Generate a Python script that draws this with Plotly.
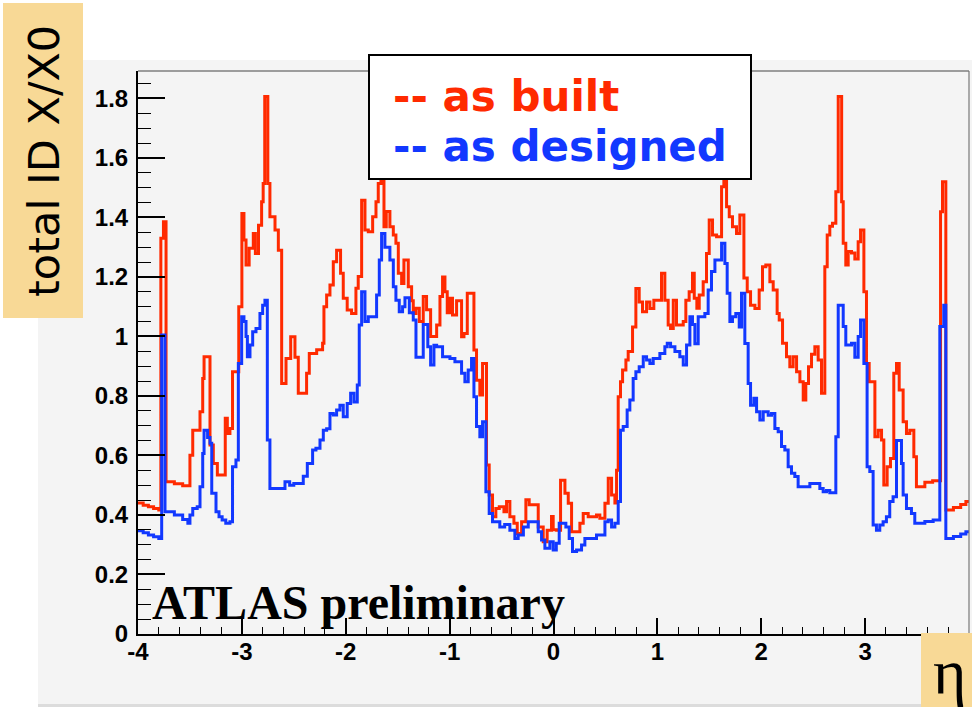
import plotly.graph_objects as go

# Step histograms: (bin low edge in eta, total ID material in X/X0)
as_built_steps = [
    (-4.00, 0.440), (-3.95, 0.433), (-3.90, 0.428), (-3.85, 0.422), (-3.80, 0.417),
    (-3.78, 1.330), (-3.755, 1.385), (-3.73, 0.512), (-3.65, 0.505), (-3.57, 0.498),
    (-3.50, 0.601), (-3.473, 0.685), (-3.403, 0.747), (-3.377, 0.859), (-3.364, 0.932),
    (-3.307, 0.635), (-3.275, 0.573), (-3.236, 0.534), (-3.16, 0.725), (-3.14, 0.674),
    (-3.115, 0.691), (-3.09, 0.881), (-3.03, 1.100), (-3.00, 1.413), (-2.98, 1.324),
    (-2.96, 1.240), (-2.93, 1.296), (-2.89, 1.346), (-2.87, 1.279), (-2.84, 1.374),
    (-2.81, 1.453), (-2.795, 1.514), (-2.78, 1.806), (-2.75, 1.514), (-2.73, 1.402),
    (-2.681, 1.358), (-2.649, 1.290), (-2.617, 0.842), (-2.575, 0.926), (-2.530, 0.999),
    (-2.489, 0.930), (-2.457, 0.809), (-2.377, 0.876), (-2.351, 0.943), (-2.28, 0.955),
    (-2.223, 0.977), (-2.21, 1.100), (-2.184, 1.139), (-2.152, 1.173), (-2.120, 1.251),
    (-2.088, 1.290), (-2.050, 1.212), (-2.024, 1.128), (-1.986, 1.089), (-1.944, 1.077),
    (-1.902, 1.162), (-1.880, 1.201), (-1.847, 1.458), (-1.815, 1.358), (-1.783, 1.352),
    (-1.741, 1.402), (-1.709, 1.453), (-1.687, 1.514), (-1.661, 1.545), (-1.632, 1.369),
    (-1.61, 1.420), (-1.575, 1.369), (-1.542, 1.341), (-1.517, 1.313), (-1.494, 1.212),
    (-1.462, 1.178), (-1.440, 1.257), (-1.398, 1.167), (-1.366, 1.120), (-1.350, 1.077),
    (-1.324, 1.095), (-1.292, 1.050), (-1.254, 1.134), (-1.222, 1.090), (-1.183, 1.000),
    (-1.125, 1.038), (-1.093, 1.134), (-1.068, 1.200), (-1.045, 1.150), (-1.023, 1.080),
    (-0.997, 1.128), (-0.972, 1.072), (-0.933, 1.120), (-0.885, 0.999), (-0.862, 1.010),
    (-0.830, 1.145), (-0.766, 0.954), (-0.741, 0.853), (-0.709, 0.803), (-0.683, 0.909),
    (-0.645, 0.568), (-0.619, 0.467), (-0.587, 0.394), (-0.555, 0.422), (-0.522, 0.428),
    (-0.477, 0.411), (-0.452, 0.445), (-0.420, 0.394), (-0.381, 0.372), (-0.349, 0.338),
    (-0.307, 0.377), (-0.266, 0.451), (-0.234, 0.434), (-0.147, 0.360), (-0.099, 0.310),
    (-0.061, 0.349), (-0.019, 0.395), (-0.003, 0.350), (0.030, 0.349), (0.068, 0.517),
    (0.110, 0.473), (0.142, 0.439), (0.174, 0.344), (0.254, 0.372), (0.286, 0.405),
    (0.334, 0.394), (0.414, 0.400), (0.446, 0.389), (0.495, 0.439), (0.527, 0.523),
    (0.559, 0.467), (0.591, 0.440), (0.607, 0.550), (0.623, 0.797), (0.645, 0.848),
    (0.665, 0.887), (0.697, 0.921), (0.719, 0.949), (0.761, 1.032), (0.793, 1.161),
    (0.825, 1.116), (0.857, 1.083), (0.896, 1.116), (0.928, 1.094), (0.966, 1.122),
    (1.040, 1.212), (1.072, 1.122), (1.104, 1.038), (1.127, 1.027), (1.153, 1.122),
    (1.184, 1.038), (1.249, 1.050), (1.274, 1.122), (1.306, 1.150), (1.338, 1.212),
    (1.355, 1.128), (1.380, 1.095), (1.403, 1.139), (1.441, 1.184), (1.473, 1.279),
    (1.499, 1.391), (1.531, 1.341), (1.570, 1.335), (1.618, 1.503), (1.640, 1.550),
    (1.666, 1.436), (1.692, 1.402), (1.723, 1.369), (1.762, 1.346), (1.794, 1.408),
    (1.833, 1.196), (1.865, 1.150), (1.897, 1.105), (1.939, 1.094), (1.980, 1.156),
    (2.012, 1.234), (2.044, 1.240), (2.083, 1.184), (2.115, 1.156), (2.153, 1.077),
    (2.173, 1.055), (2.205, 0.977), (2.243, 0.932), (2.275, 0.898), (2.307, 0.932),
    (2.340, 0.881), (2.372, 0.848), (2.404, 0.786), (2.429, 0.842), (2.455, 0.898),
    (2.484, 0.940), (2.516, 0.965), (2.548, 0.921), (2.580, 0.809), (2.612, 1.234),
    (2.635, 1.341), (2.660, 1.370), (2.686, 1.380), (2.718, 1.486), (2.741, 1.806),
    (2.774, 1.453), (2.789, 1.313), (2.814, 1.240), (2.837, 1.285), (2.869, 1.280),
    (2.901, 1.260), (2.933, 1.318), (2.956, 1.358), (2.988, 1.150), (3.013, 0.909),
    (3.039, 0.848), (3.094, 0.663), (3.126, 0.685), (3.158, 0.652), (3.180, 0.501),
    (3.212, 0.562), (3.244, 0.590), (3.276, 0.876), (3.302, 0.909), (3.328, 0.820),
    (3.366, 0.713), (3.398, 0.674), (3.430, 0.685), (3.469, 0.596), (3.494, 0.495),
    (3.575, 0.510), (3.650, 0.515), (3.726, 1.419), (3.745, 1.520), (3.777, 0.417),
    (3.850, 0.425), (3.920, 0.435), (3.970, 0.445),
]

as_designed_steps = [
    (-4.00, 0.347), (-3.95, 0.340), (-3.90, 0.333), (-3.85, 0.327), (-3.80, 0.321),
    (-3.772, 1.005), (-3.74, 0.411), (-3.65, 0.400), (-3.57, 0.385), (-3.52, 0.372),
    (-3.50, 0.400), (-3.473, 0.422), (-3.43, 0.428), (-3.403, 0.495), (-3.377, 0.607),
    (-3.364, 0.685), (-3.33, 0.660), (-3.307, 0.641), (-3.29, 0.473), (-3.249, 0.411),
    (-3.22, 0.394), (-3.19, 0.383), (-3.155, 0.372), (-3.115, 0.377), (-3.09, 0.562),
    (-3.057, 0.585), (-3.034, 0.909), (-3.002, 1.066), (-2.98, 1.050), (-2.96, 1.000),
    (-2.947, 0.932), (-2.922, 0.971), (-2.896, 1.016), (-2.864, 1.027), (-2.826, 1.077),
    (-2.80, 1.105), (-2.778, 1.122), (-2.755, 0.652), (-2.73, 0.489), (-2.585, 0.512),
    (-2.54, 0.500), (-2.50, 0.506), (-2.409, 0.530), (-2.370, 0.573), (-2.319, 0.618),
    (-2.287, 0.624), (-2.248, 0.652), (-2.216, 0.685), (-2.184, 0.690), (-2.152, 0.741),
    (-2.120, 0.736), (-2.088, 0.753), (-2.056, 0.769), (-2.024, 0.730), (-1.986, 0.775),
    (-1.953, 0.809), (-1.921, 0.780), (-1.889, 0.837), (-1.870, 1.038), (-1.847, 1.150),
    (-1.815, 1.050), (-1.783, 1.066), (-1.703, 1.139), (-1.677, 1.257), (-1.655, 1.346),
    (-1.623, 1.300), (-1.575, 1.257), (-1.542, 1.167), (-1.517, 1.122), (-1.485, 1.083),
    (-1.453, 1.100), (-1.430, 1.130), (-1.388, 1.080), (-1.350, 1.055), (-1.324, 0.930),
    (-1.254, 1.040), (-1.210, 0.965), (-1.183, 0.904), (-1.151, 0.970), (-1.125, 0.965),
    (-1.068, 0.932), (-0.997, 0.926), (-0.949, 0.915), (-0.885, 0.876), (-0.853, 0.848),
    (-0.821, 0.887), (-0.789, 0.926), (-0.766, 0.797), (-0.741, 0.697), (-0.709, 0.663),
    (-0.683, 0.713), (-0.651, 0.478), (-0.619, 0.405), (-0.587, 0.377), (-0.517, 0.360),
    (-0.470, 0.368), (-0.420, 0.349), (-0.372, 0.321), (-0.340, 0.333), (-0.290, 0.360),
    (-0.243, 0.377), (-0.147, 0.344), (-0.115, 0.316), (-0.083, 0.288), (-0.035, 0.310),
    (-0.003, 0.282), (0.027, 0.305), (0.055, 0.372), (0.119, 0.360), (0.151, 0.321),
    (0.183, 0.277), (0.222, 0.282), (0.270, 0.299), (0.302, 0.321), (0.414, 0.333),
    (0.495, 0.377), (0.527, 0.383), (0.559, 0.360), (0.591, 0.372), (0.623, 0.445),
    (0.645, 0.685), (0.671, 0.697), (0.709, 0.753), (0.735, 0.786), (0.767, 0.859),
    (0.793, 0.881), (0.825, 0.898), (0.864, 0.932), (0.896, 0.921), (0.928, 0.909),
    (0.960, 0.926), (1.024, 0.943), (1.072, 0.965), (1.095, 0.977), (1.127, 0.965),
    (1.169, 0.949), (1.216, 0.932), (1.249, 0.904), (1.281, 0.971), (1.313, 1.066),
    (1.338, 1.040), (1.361, 0.975), (1.393, 1.066), (1.457, 1.077), (1.489, 1.156),
    (1.521, 1.218), (1.554, 1.257), (1.618, 1.313), (1.650, 1.245), (1.672, 1.145),
    (1.698, 1.050), (1.723, 1.066), (1.755, 1.077), (1.788, 1.032), (1.810, 1.145),
    (1.842, 0.976), (1.874, 0.842), (1.897, 0.769), (1.929, 0.792), (1.955, 0.747),
    (1.987, 0.719), (2.019, 0.747), (2.067, 0.735), (2.099, 0.741), (2.131, 0.691),
    (2.163, 0.680), (2.195, 0.630), (2.227, 0.618), (2.259, 0.562), (2.291, 0.540),
    (2.323, 0.529), (2.355, 0.495), (2.468, 0.506), (2.564, 0.489), (2.596, 0.478),
    (2.628, 0.482), (2.660, 0.475), (2.718, 0.663), (2.741, 1.105), (2.789, 1.033),
    (2.814, 0.971), (2.869, 0.977), (2.901, 0.930), (2.933, 1.000), (2.956, 1.055),
    (2.988, 0.909), (3.019, 0.562), (3.045, 0.546), (3.077, 0.366), (3.109, 0.349),
    (3.141, 0.366), (3.173, 0.377), (3.205, 0.394), (3.237, 0.445), (3.269, 0.461),
    (3.302, 0.650), (3.350, 0.573), (3.366, 0.467), (3.398, 0.422), (3.446, 0.405),
    (3.478, 0.372), (3.575, 0.378), (3.655, 0.383), (3.719, 1.033), (3.757, 1.105),
    (3.777, 0.321), (3.850, 0.328), (3.920, 0.336), (3.970, 0.344),
]

eta_range = [-4.0, 4.0]
x0_range = [0.0, 1.892]
x_tick_values = [-4, -3, -2, -1, 0, 1, 2, 3]
x_tick_labels = ["-4", "-3", "-2", "-1", "0", "1", "2", "3"]
series_names = ["-- as built", "-- as designed"]
series_colors = ["#ff2a00", "#1238ff"]

W, H = 972, 707
L, R, T, B = 138, 3, 71, 73
PW, PH = W - L - R, H - T - B


def px(x):
    return (x - L) / PW


def py(y):
    return (H - B - y) / PH


def step_xy(steps):
    eta = [s[0] for s in steps] + [eta_range[1]]
    val = [s[1] for s in steps]
    val = val + [val[-1]]
    return eta, val


fig = go.Figure()
for steps, color in zip([as_built_steps, as_designed_steps], series_colors):
    xs, ys = step_xy(steps)
    fig.add_trace(go.Scatter(x=xs, y=ys, mode="lines", line_shape="hv",
                             line=dict(color=color, width=3), showlegend=False,
                             hoverinfo="skip"))

panel = "#f4f4f4"
orange = "#f8d996"
shapes = [
    # grey canvas behind the pad
    dict(type="rect", xref="paper", yref="paper", x0=px(38), x1=px(972), y0=py(704), y1=py(60),
         fillcolor=panel, line_width=0, layer="below"),
    dict(type="rect", xref="paper", yref="paper", x0=px(38), x1=px(972), y0=py(707), y1=py(704),
         fillcolor="#dcdcdc", line_width=0, layer="below"),
    # frame top / right
    dict(type="line", xref="paper", yref="paper", x0=0, x1=1, y0=1, y1=1,
         line=dict(color="#444444", width=1.2), layer="above"),
    dict(type="line", xref="paper", yref="paper", x0=1, x1=1, y0=0, y1=1,
         line=dict(color="#777777", width=1.2), layer="above"),
    # y title box
    dict(type="rect", xref="paper", yref="paper", x0=px(3), x1=px(83), y0=py(318), y1=py(3),
         fillcolor=orange, line_width=0, layer="above"),
    # x title box
    dict(type="rect", xref="paper", yref="paper", x0=px(921), x1=px(972), y0=py(707), y1=py(633),
         fillcolor=orange, line_width=0, layer="above"),
    # legend box
    dict(type="rect", xref="paper", yref="paper", x0=px(369), x1=px(751), y0=py(179), y1=py(55),
         fillcolor="white", line=dict(color="black", width=2), layer="above"),
]

annotations = [
    dict(text="total ID X/X0", x=px(44), y=py(161), xref="paper", yref="paper",
         textangle=-90, showarrow=False, xanchor="center", yanchor="middle",
         font=dict(family="DejaVu Sans", size=43, color="black")),
    dict(text="η", x=px(949), y=py(671), xref="paper", yref="paper",
         showarrow=False, xanchor="center", yanchor="middle",
         font=dict(family="Liberation Serif", size=64, color="black")),
    dict(text="ATLAS preliminary", x=px(150), y=py(602), xref="paper", yref="paper",
         showarrow=False, xanchor="left", yanchor="middle",
         font=dict(family="Liberation Serif", size=48, color="black", weight="bold")),
    dict(text=series_names[0], x=px(391), y=py(96), xref="paper", yref="paper",
         showarrow=False, xanchor="left", yanchor="middle",
         font=dict(family="DejaVu Sans", size=42, color=series_colors[0], weight="bold")),
    dict(text=series_names[1], x=px(391), y=py(146), xref="paper", yref="paper",
         showarrow=False, xanchor="left", yanchor="middle",
         font=dict(family="DejaVu Sans", size=42, color=series_colors[1], weight="bold")),
]

tickfont = dict(family="Liberation Sans", size=24, color="black", weight="bold")

fig.update_layout(
    width=W, height=H,
    margin=dict(l=L, r=R, t=T, b=B, pad=0),
    paper_bgcolor="white",
    plot_bgcolor=panel,
    shapes=shapes,
    annotations=annotations,
    xaxis=dict(range=eta_range, tickmode="array", tickvals=x_tick_values, ticktext=x_tick_labels,
               ticks="inside", ticklen=16, tickwidth=1.5, tickcolor="black",
               minor=dict(dtick=0.2, ticks="inside", ticklen=7, tickwidth=1.2, tickcolor="black"),
               showline=True, linecolor="black", linewidth=2, showgrid=False, zeroline=False,
               tickfont=tickfont, ticklabelstandoff=-5, automargin=False, fixedrange=True),
    yaxis=dict(range=x0_range, tick0=0, dtick=0.2,
               ticks="inside", ticklen=27, tickwidth=1.5, tickcolor="black",
               minor=dict(dtick=0.05, ticks="inside", ticklen=13, tickwidth=1.2, tickcolor="black"),
               showline=True, linecolor="black", linewidth=2, showgrid=False, zeroline=False,
               tickfont=tickfont, ticklabelstandoff=3, automargin=False, fixedrange=True),
)

fig.write_html("out.html")
